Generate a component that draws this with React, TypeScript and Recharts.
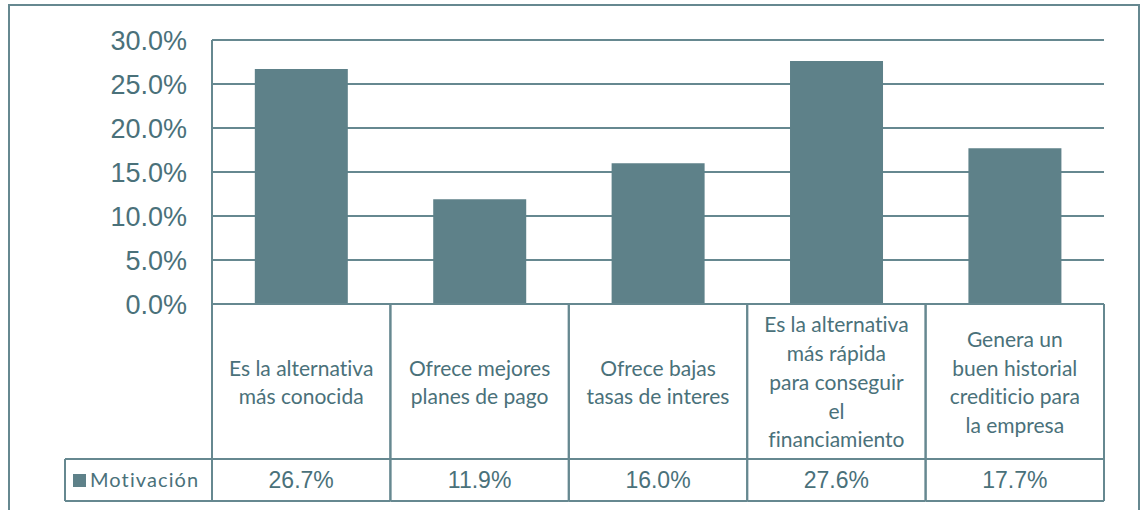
import React from 'react';
import { BarChart, Bar, XAxis, YAxis, CartesianGrid } from 'recharts';

const categories = [
  'Es la alternativa\nmás conocida',
  'Ofrece mejores\nplanes de pago',
  'Ofrece bajas\ntasas de interes',
  'Es la alternativa\nmás rápida\npara conseguir\nel\nfinanciamiento',
  'Genera un\nbuen historial\ncrediticio para\nla empresa',
];
const motivacion = [0.267, 0.119, 0.16, 0.276, 0.177];
const seriesName = 'Motivación';
const yTicks = [0, 0.05, 0.1, 0.15, 0.2, 0.25, 0.3];

const data = categories.map((c, i) => ({ name: c, value: motivacion[i] }));

const W = 1144;
const H = 510;
const MARGIN = { top: 40, right: 40, left: 0, bottom: 0 };
const Y_W = 212;
const X_H = 206;
const PLOT_W = W - MARGIN.left - MARGIN.right - Y_W;
const BAND = PLOT_W / categories.length;
const PLOT_BOTTOM = H - X_H;
const LABEL_ROW_BOTTOM = 459;
const TABLE_BOTTOM = 501;
const LEGEND_LEFT = 65;

const LINE = '#668890';
const BAR = '#5e8189';
const TEXT = '#4a717a';

const fmt = (v: number) => (v * 100).toFixed(1) + '%';
const noLig = { fontVariantLigatures: 'none' as const, fontFeatureSettings: '"liga" 0, "clig" 0' };

const TableTick = (props: any) => {
  const { x, index, payload } = props;
  const lines: string[] = String(payload.value).split('\n');
  const pitch = 28.7;
  const cy = (PLOT_BOTTOM + LABEL_ROW_BOTTOM) / 2 + 1;
  const startY = cy - ((lines.length - 1) * pitch) / 2;
  const left = x - BAND / 2;
  const right = x + BAND / 2;
  const valY = (LABEL_ROW_BOTTOM + TABLE_BOTTOM) / 2;
  return (
    <g>
      <line x1={left} x2={left} y1={PLOT_BOTTOM} y2={TABLE_BOTTOM} stroke={LINE} strokeWidth={2} />
      <line x1={right} x2={right} y1={PLOT_BOTTOM} y2={TABLE_BOTTOM} stroke={LINE} strokeWidth={2} />
      <line x1={left} x2={right} y1={LABEL_ROW_BOTTOM} y2={LABEL_ROW_BOTTOM} stroke={LINE} strokeWidth={2} />
      <line x1={left} x2={right} y1={TABLE_BOTTOM} y2={TABLE_BOTTOM} stroke={LINE} strokeWidth={2} />
      {lines.map((ln, i) => (
        <text
          key={i}
          x={x}
          y={startY + i * pitch}
          dy="0.35em"
          textAnchor="middle"
          fill={TEXT}
          fontFamily="Lato, 'Open Sans', sans-serif"
          fontSize={21}
          style={noLig}
        >
          {ln}
        </text>
      ))}
      <text
        x={x}
        y={valY}
        dy="0.36em"
        textAnchor="middle"
        fill={TEXT}
        fontFamily="'Liberation Sans', Arial, sans-serif"
        fontSize={23}
      >
        {fmt(motivacion[index])}
      </text>
      {index === 0 && (
        <g>
          <line x1={LEGEND_LEFT} x2={left} y1={LABEL_ROW_BOTTOM} y2={LABEL_ROW_BOTTOM} stroke={LINE} strokeWidth={2} />
          <line x1={LEGEND_LEFT} x2={left} y1={TABLE_BOTTOM} y2={TABLE_BOTTOM} stroke={LINE} strokeWidth={2} />
          <line x1={LEGEND_LEFT} x2={LEGEND_LEFT} y1={LABEL_ROW_BOTTOM} y2={TABLE_BOTTOM} stroke={LINE} strokeWidth={2} />
          <rect x={73} y={474} width={13} height={13} fill={BAR} />
          <text
            x={90}
            y={valY}
            dy="0.36em"
            textAnchor="start"
            fill={TEXT}
            fontFamily="Lato, 'Open Sans', sans-serif"
            fontSize={20}
            letterSpacing={1.1}
            style={noLig}
          >
            {seriesName}
          </text>
        </g>
      )}
    </g>
  );
};

export default function App() {
  return (
    <div style={{ position: 'absolute', left: 0, top: 0, width: W, height: H, overflow: 'hidden', background: '#fff' }}>
      <div
        style={{
          position: 'absolute',
          left: 8,
          top: 4,
          width: 1132,
          height: 540,
          border: `2px solid ${LINE}`,
          boxSizing: 'border-box',
          pointerEvents: 'none',
        }}
      />
      <div style={{ position: 'absolute', left: 0, top: 0 }}>
        <BarChart width={W} height={H} data={data} margin={MARGIN} barCategoryGap="24%">
          <CartesianGrid vertical={false} stroke={LINE} strokeWidth={2} />
          <XAxis
            dataKey="name"
            height={X_H}
            interval={0}
            tickLine={false}
            axisLine={{ stroke: LINE, strokeWidth: 2 }}
            tick={<TableTick />}
          />
          <YAxis
            width={Y_W}
            domain={[0, 0.3]}
            ticks={yTicks}
            tickFormatter={fmt}
            tickLine={false}
            tickSize={0}
            tickMargin={25}
            axisLine={{ stroke: LINE, strokeWidth: 2 }}
            tick={{ fill: TEXT, fontSize: 27, fontFamily: "'Liberation Sans', Arial, sans-serif" }}
          />
          <Bar dataKey="value" name={seriesName} fill={BAR} isAnimationActive={false} />
        </BarChart>
      </div>
    </div>
  );
}
